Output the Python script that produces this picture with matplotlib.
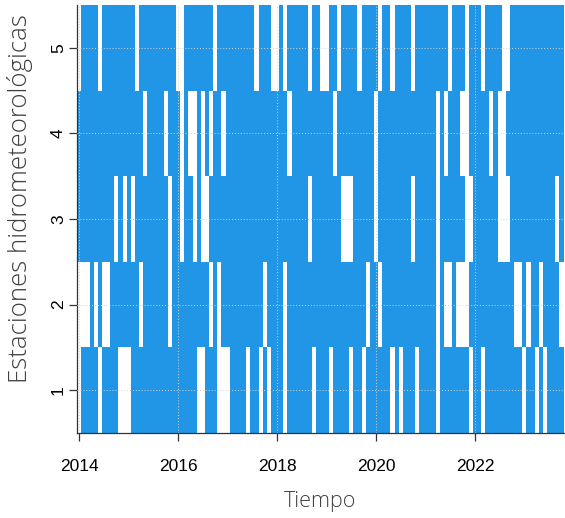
import numpy as np
import pandas as pd
import matplotlib
matplotlib.use("Agg")
import matplotlib.pyplot as plt
from matplotlib.colors import ListedColormap

# ---- Data: monthly records, Jan 2014 - Oct 2023 ---- #
start_month = "2014-01"
end_month = "2023-10"
stations = [1, 2, 3, 4, 5]

# months with no data, per station
missing_1 = ["2014-01", "2014-06", "2014-11", "2014-12", "2015-01", "2016-06", "2016-07",
             "2016-11", "2016-12", "2017-01", "2017-06", "2017-09", "2017-11", "2018-03",
             "2018-10", "2019-02", "2019-07", "2019-10", "2020-05", "2020-07", "2020-11",
             "2021-04", "2021-12", "2022-03", "2023-01", "2023-04", "2023-06"]
missing_2 = ["2014-01", "2014-02", "2014-03", "2014-05", "2014-07", "2014-08", "2015-04",
             "2015-11", "2016-09", "2016-11", "2017-10", "2018-03", "2019-11", "2020-02",
             "2021-04", "2021-06", "2021-07", "2021-09", "2021-10", "2021-11", "2022-11",
             "2022-12", "2023-02", "2023-05", "2023-10"]
missing_3 = ["2014-10", "2014-12", "2015-02", "2015-11", "2016-02", "2016-05", "2016-07",
             "2016-08", "2018-09", "2019-05", "2019-06", "2019-07", "2020-01", "2020-10",
             "2021-04", "2021-11", "2021-12", "2022-07", "2022-08", "2022-09", "2023-09"]
missing_4 = ["2015-05", "2015-10", "2016-02", "2016-04", "2016-05", "2016-07", "2016-09",
             "2016-12", "2018-04", "2019-03", "2020-01", "2021-04", "2021-06", "2021-10",
             "2021-11", "2022-05", "2022-07", "2022-08"]
missing_5 = ["2014-01", "2014-06", "2015-03", "2016-01", "2016-02", "2016-10", "2017-08",
             "2017-12", "2018-01", "2018-03", "2018-09", "2018-12", "2019-01", "2019-04",
             "2019-09", "2020-02", "2020-05", "2020-10", "2021-07", "2021-11", "2022-03",
             "2022-08", "2022-09"]
missing = [missing_1, missing_2, missing_3, missing_4, missing_5]

x_ticks = [2014, 2016, 2018, 2020, 2022]
blue = "#2196e6"

# ---- Presence matrix ---- #
months = pd.period_range(start_month, end_month, freq="M")
t = months.year + (months.month - 1) / 12.0
present = np.ones((len(stations), len(months)))
for i, miss in enumerate(missing):
    idx = months.isin(pd.PeriodIndex(miss, freq="M"))
    present[i, idx] = 0

x_edges = np.append(t - 1 / 24, t[-1] + 1 / 24)
y_edges = np.arange(0.5, len(stations) + 1)

# ---- Plot ---- #
W, H = 565, 518
fig = plt.figure(figsize=(W / 100, H / 100), dpi=100)
ax = fig.add_axes([77.2 / W, 1 - 433 / H, (563.5 - 77.2) / W, (433 - 5) / H])

ax.pcolormesh(x_edges, y_edges, present, cmap=ListedColormap(["white", blue]),
              vmin=0, vmax=1, shading="flat")

ax.set_xlim(x_edges[0], x_edges[-1])
ax.set_ylim(0.5, len(stations) + 0.5)

# dotted grid drawn over the image, like R's grid()
for xv in x_ticks:
    ax.axvline(xv, color="#d3d3d3", lw=0.7, ls=(0, (1, 2)), zorder=3)
for yv in stations:
    ax.axhline(yv, color="#d3d3d3", lw=0.7, ls=(0, (1, 2)), zorder=3)

ax.spines["top"].set_visible(False)
ax.spines["right"].set_visible(False)
for s in ["left", "bottom"]:
    ax.spines[s].set_linewidth(0.9)
    ax.spines[s].set_color("#333333")

ax.set_xticks(x_ticks)
ax.set_xticklabels([str(v) for v in x_ticks], family="Liberation Sans", fontsize=12.5)
ax.set_yticks(stations)
ax.set_yticklabels([str(v) for v in stations], family="Liberation Sans", fontsize=12.5,
                   rotation=90, va="center")
ax.tick_params(axis="x", length=6, width=0.9, pad=13, color="#333333")
ax.tick_params(axis="y", length=6, width=0.9, pad=2, color="#333333")

fig.text(20 / W, 1 - 199 / H, "Estaciones hidrometeorológicas", rotation=90,
         ha="center", va="center", family="Open Sans", fontweight="light",
         fontsize=18.5, color="#404040")
fig.text(320 / W, 1 - 501 / H, "Tiempo", ha="center", va="center",
         family="Open Sans", fontweight="light", fontsize=15.5, color="#404040")

fig.savefig("out.png", dpi=100)
